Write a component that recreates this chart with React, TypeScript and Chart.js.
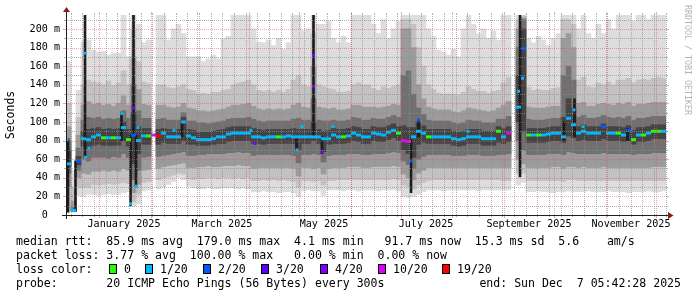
import React, { useEffect, useRef } from 'react';
import { Chart, registerables } from 'chart.js';

Chart.register(...registerables);

const MONO = '"DejaVu Sans Mono", "Liberation Mono", monospace';

// ---------------- time axis (days since 2024-12-12 05:42:28, 360-day window) ----------------
const WINDOW_DAYS = 360;
const COLUMN_DAYS = 3; // one smoke column = 3 days
const monthStartDays = [19.76, 50.76, 78.76, 109.76, 139.76, 170.76, 200.76, 231.76, 262.76, 292.76, 323.76, 353.76];
const monthLabels = ['January 2025', 'March 2025', 'May 2025', 'July 2025', 'September 2025', 'November 2025'];
const labelMonthStartDays = [19.76, 78.76, 139.76, 200.76, 262.76, 323.76];
const firstSundayDay = 2.76;

// ---------------- value axis (ms) ----------------
const RTT_AXIS_MAX = 215;

// ---------------- smoke: sorted ping rtts per column (ms) ----------------
const rttMax = [
  165, 48, 134, 186, 188, 177, 175, 176, 172, 174,
  174, 215, 170, 215, 205, 185, 188, null, 215, 215,
  188, 200, 205, 195, 170, 170, 170, 165, 168, 172,
  168, 190, 192, 215, 215, 215, 215, 200, 186, 185,
  188, 182, 190, 178, 185, 215, 215, 198, 200, 215,
  205, 205, 208, 190, 185, 192, 185, 215, 215, 215,
  215, 205, 195, 210, 190, 200, 208, 215, 215, 215,
  215, 215, 200, 192, 177, 175, 172, 178, 170, 200,
  215, 205, 195, 200, 190, 198, 188, 215, 215, null,
  215, 215, 190, 185, 192, 188, 182, 190, 195, 215,
  215, 215, 200, 215, 195, 190, 205, 195, 210, 200,
  215, 215, 215, 208, 215, 215, 210, 215, 215, 215,
];
const rttMin = [
  3, 3, 21, 20, 22, 22, 21, 22, 23, 22,
  22, 24, 25, 9, 12, 26, 27, null, 28, 30,
  33, 36, 40, 38, 31, 29, 28, 28, 29, 28,
  28, 29, 29, 29, 28, 29, 28, 25, 25, 26,
  25, 25, 24, 25, 25, 24, 20, 26, 27, 26,
  26, 21, 27, 27, 27, 26, 27, 27, 26, 27,
  27, 27, 26, 27, 27, 27, 26, 20, 19, 20,
  22, 25, 27, 27, 27, 26, 27, 27, 27, 27,
  27, 27, 26, 27, 27, 27, 27, 27, 27, null,
  32, 35, 25, 25, 26, 25, 25, 24, 25, 25,
  26, 25, 25, 25, 26, 25, 25, 25, 26, 25,
  25, 25, 24, 25, 25, 25, 26, 25, 25, 26,
];
const ping3 = [
  8, 4, 30, 30, 30, 33, 32, 33, 34, 33,
  34, 35, 34, 14, 22, 35, 36, null, 38, 40,
  41, 43, 45, 44, 39, 38, 40, 39, 40, 40,
  39, 40, 40, 39, 40, 39, 40, 37, 37, 38,
  37, 38, 37, 38, 37, 36, 30, 37, 37, 36,
  37, 32, 37, 37, 38, 38, 38, 38, 38, 38,
  38, 38, 38, 38, 38, 39, 38, 32, 30, 28,
  32, 35, 37, 38, 38, 38, 38, 38, 38, 38,
  38, 38, 38, 38, 38, 38, 38, 37, 37, null,
  45, 45, 37, 37, 37, 37, 37, 37, 37, 36,
  38, 38, 37, 37, 37, 37, 37, 37, 37, 37,
  37, 37, 37, 37, 37, 37, 37, 37, 37, 37,
];
const ping5 = [
  30, 4, 40, 45, 44, 47, 47, 48, 47, 48,
  47, 50, 48, 24, 33, 48, 49, null, 50, 52,
  53, 54, 55, 56, 51, 51, 52, 52, 53, 52,
  52, 53, 53, 53, 54, 53, 53, 50, 51, 51,
  51, 51, 51, 51, 51, 50, 42, 51, 51, 50,
  51, 44, 50, 51, 51, 51, 52, 52, 52, 51,
  51, 52, 52, 52, 52, 53, 52, 44, 40, 38,
  45, 48, 51, 51, 51, 51, 51, 51, 51, 51,
  51, 51, 51, 51, 51, 51, 51, 51, 51, null,
  60, 55, 51, 51, 51, 51, 51, 52, 52, 50,
  52, 52, 51, 52, 51, 51, 51, 52, 51, 51,
  51, 51, 51, 51, 51, 51, 51, 52, 52, 52,
];
const ping7 = [
  45, 5, 48, 60, 58, 62, 62, 62, 61, 63,
  62, 66, 62, 38, 48, 62, 63, null, 63, 64,
  65, 66, 67, 68, 64, 64, 65, 65, 66, 66,
  66, 66, 67, 67, 68, 67, 67, 64, 65, 65,
  65, 65, 65, 65, 65, 64, 56, 65, 65, 66,
  65, 57, 64, 65, 65, 65, 66, 66, 66, 65,
  65, 66, 66, 66, 67, 68, 67, 58, 54, 50,
  60, 63, 65, 65, 65, 65, 65, 64, 64, 64,
  65, 65, 65, 64, 64, 64, 65, 65, 66, null,
  80, 70, 65, 65, 65, 65, 66, 66, 66, 65,
  68, 67, 66, 66, 66, 66, 66, 67, 66, 66,
  66, 66, 66, 65, 66, 66, 66, 67, 67, 67,
];
const ping9 = [
  52, 5, 54, 74, 72, 75, 76, 75, 75, 75,
  75, 80, 74, 55, 66, 76, 76, null, 76, 78,
  77, 77, 77, 80, 76, 76, 75, 75, 75, 76,
  77, 77, 79, 80, 80, 80, 80, 77, 77, 76,
  77, 77, 77, 77, 77, 77, 70, 77, 77, 80,
  77, 68, 76, 77, 77, 77, 78, 80, 79, 77,
  77, 80, 79, 79, 81, 83, 80, 70, 66, 62,
  76, 78, 77, 77, 77, 77, 77, 75, 74, 75,
  77, 77, 77, 75, 75, 75, 78, 77, 79, null,
  100, 90, 78, 78, 78, 78, 79, 80, 80, 78,
  85, 83, 80, 81, 80, 80, 80, 82, 80, 80,
  80, 79, 80, 76, 79, 79, 80, 82, 82, 82,
];
const ping12 = [
  70, 6, 63, 90, 92, 93, 94, 92, 93, 92,
  93, 100, 92, 110, 95, 93, 93, null, 92, 93,
  92, 92, 92, 105, 92, 91, 89, 89, 89, 90,
  91, 92, 94, 95, 95, 95, 95, 93, 92, 91,
  92, 92, 92, 92, 92, 93, 92, 92, 92, 100,
  92, 90, 91, 93, 92, 92, 93, 95, 94, 92,
  92, 95, 94, 94, 96, 98, 95, 96, 94, 94,
  100, 96, 92, 92, 92, 92, 92, 90, 89, 90,
  92, 92, 92, 90, 90, 90, 95, 93, 95, null,
  150, 200, 93, 93, 93, 93, 94, 95, 95, 105,
  125, 115, 95, 97, 95, 95, 95, 98, 95, 95,
  95, 94, 96, 91, 94, 94, 95, 97, 97, 97,
];
const ping14 = [
  80, 8, 72, 102, 105, 104, 105, 103, 104, 103,
  104, 112, 104, 140, 112, 104, 104, null, 103, 104,
  102, 102, 102, 110, 101, 101, 99, 99, 98, 99,
  100, 101, 103, 104, 104, 104, 105, 103, 101, 100,
  101, 101, 101, 101, 101, 103, 104, 102, 102, 125,
  102, 101, 101, 102, 101, 101, 102, 105, 104, 102,
  102, 104, 103, 103, 105, 107, 105, 150, 155, 130,
  115, 108, 102, 101, 101, 101, 101, 99, 98, 99,
  102, 101, 101, 99, 99, 99, 103, 103, 106, null,
  180, 210, 103, 102, 102, 102, 103, 104, 104, 150,
  160, 145, 105, 107, 104, 104, 105, 107, 105, 104,
  105, 104, 106, 102, 104, 104, 105, 106, 106, 106,
];
const ping16 = [
  95, 15, 86, 118, 122, 119, 120, 118, 119, 117,
  120, 128, 118, 170, 135, 119, 118, null, 118, 118,
  116, 115, 116, 120, 115, 114, 112, 112, 111, 112,
  113, 114, 116, 118, 118, 119, 120, 117, 114, 113,
  114, 113, 114, 113, 114, 118, 120, 116, 115, 160,
  116, 115, 114, 115, 113, 113, 114, 118, 118, 116,
  116, 116, 115, 116, 117, 119, 118, 200, 200, 180,
  140, 125, 116, 114, 113, 113, 113, 111, 110, 112,
  115, 114, 113, 112, 111, 112, 115, 118, 122, null,
  200, 212, 116, 115, 115, 115, 116, 117, 117, 190,
  195, 180, 120, 121, 117, 117, 119, 120, 119, 118,
  120, 119, 121, 117, 119, 119, 120, 121, 121, 121,
];
const ping18 = [
  120, 30, 105, 140, 145, 143, 142, 140, 144, 139,
  142, 155, 140, 200, 165, 143, 141, null, 140, 140,
  137, 136, 138, 140, 135, 134, 130, 131, 130, 132,
  132, 134, 135, 140, 142, 143, 145, 140, 134, 133,
  134, 132, 134, 132, 135, 145, 150, 140, 138, 195,
  140, 138, 136, 135, 132, 132, 133, 140, 142, 140,
  140, 136, 134, 138, 136, 138, 140, 210, 210, 205,
  180, 160, 140, 135, 131, 130, 130, 130, 129, 132,
  138, 135, 133, 133, 131, 133, 134, 142, 148, null,
  210, 214, 137, 134, 135, 134, 134, 136, 137, 210,
  210, 205, 145, 148, 138, 137, 142, 140, 143, 140,
  145, 145, 147, 142, 145, 146, 145, 147, 148, 147,
];

// ---------------- median rtt per column (ms) and its loss class ----------------
const medianRtt = [
  55, 5, 58, 82, 81, 84, 86, 83, 83, 83,
  83, 94, 81, 86, 80, 85, 85, 86, 85, 88,
  84, 84, 84, 100, 85, 83, 81, 81, 81, 82,
  84, 84, 87, 88, 88, 88, 88, 84, 84, 83,
  84, 84, 84, 84, 85, 84, 84, 84, 84, 84,
  84, 82, 82, 86, 84, 84, 85, 88, 86, 84,
  84, 88, 87, 86, 89, 91, 88, 80, 79, 84,
  90, 88, 84, 84, 84, 84, 84, 82, 81, 82,
  84, 84, 84, 82, 82, 82, 90, 84, 88, null,
  116, 179, 86, 86, 86, 86, 87, 88, 88, 84,
  104, 97, 88, 90, 88, 88, 88, 95, 88, 88,
  88, 86, 91, 81, 86, 86, 88, 90, 90, 90,
];
const medianLoss = [
  1, 1, 2, 1, 1, 1, 1, 0, 1, 0,
  1, 1, 0, 2, 1, 1, 0, 5, 6, 1,
  1, 1, 1, 1, 1, 1, 1, 1, 1, 1,
  1, 1, 1, 1, 1, 1, 1, 1, 1, 1,
  1, 1, 0, 1, 1, 1, 1, 1, 1, 1,
  1, 1, 1, 1, 1, 0, 1, 1, 1, 1,
  1, 1, 1, 1, 1, 1, 0, 5, 5, 1,
  1, 1, 0, 1, 1, 1, 1, 1, 1, 1,
  1, 1, 1, 1, 1, 1, 0, 1, 5, 1,
  1, 2, 0, 1, 0, 1, 1, 1, 1, 1,
  1, 1, 1, 1, 1, 1, 1, 2, 1, 1,
  0, 1, 2, 0, 1, 0, 1, 0, 0, 1,
];

// short-lived median excursions (day, ms, loss class)
const markDays = [0.6, 11.4, 11.7, 13.8, 33.6, 38.7, 40.2, 42.3, 43.2, 64.8, 111.0, 113.4, 138.6, 141.6, 148.5, 148.5, 153.6, 160.2, 207.0, 211.5, 241.2, 271.5, 273.9, 304.8, 310.2];
const markRtt = [81, 174, 62, 72, 109, 12, 115, 31, 94, 91, 91, 77, 70, 95, 138, 172, 68, 95, 58, 102, 90, 133, 147, 113, 95];
const markLoss = [1, 1, 1, 1, 1, 1, 4, 1, 1, 1, 1, 4, 1, 1, 4, 4, 4, 1, 2, 2, 1, 1, 1, 1, 1];

// narrow dark smoke spikes (day, low ms, high ms)
const spikeDays = [1.2, 5.7, 11.4, 33.3, 38.7, 40.5, 42.0, 69.6, 138.3, 148.5, 153.6, 207.0, 211.5, 272.4, 298.8, 305.1, 336.9];
const spikeLow = [3, 4, 62, 80, 10, 86, 31, 84, 70, 84, 66, 24, 84, 41, 80, 84, 80];
const spikeHigh = [82, 58, 215, 110, 86, 215, 86, 101, 84, 215, 84, 81, 102, 215, 100, 125, 93];

// ---------------- legend ----------------
const lossLabels = ['0', '1/20', '2/20', '3/20', '4/20', '10/20', '19/20'];
const lossColors = ['#26ff00', '#00b8ff', '#0059ff', '#5e00ff', '#7e00ff', '#dd00ff', '#ff0000'];
const rttLine = 'median rtt:  85.9 ms avg  179.0 ms max  4.1 ms min   91.7 ms now  15.3 ms sd  5.6    am/s';
const lossLine = 'packet loss: 3.77 % avg  100.00 % max   0.00 % min  0.00 % now';
const lossColorTitle = 'loss color:';
const probeLine = 'probe:       20 ICMP Echo Pings (56 Bytes) every 300s';
const endLine = 'end: Sun Dec  7 05:42:28 2025';
const yTitle = 'Seconds';
const watermark = 'RRDTOOL / TOBI OETIKER';

// ---------------- chart ----------------
const colX = (i: number) => (i + 0.5) * COLUMN_DAYS;

function band(lo: (number | null)[], hi: (number | null)[], color: string, order: number) {
  return {
    type: 'bar' as const,
    data: lo.map((l, i) => ({ x: colX(i), y: l == null || hi[i] == null ? null : [l, hi[i]] })),
    backgroundColor: color,
    barThickness: 5,
    grouped: false,
    borderWidth: 0,
    order,
  };
}

const decorPlugin = {
  id: 'rrdDecor',
  afterDatasetsDraw(chart: any) {
    const { ctx, chartArea: a, scales } = chart;
    const xs = scales.x;
    const ys = scales.y;
    const MINOR = 'rgba(143,143,143,0.7)';
    const MAJOR = 'rgba(222,79,79,0.5)';
    const seg = (x1: number, y1: number, x2: number, y2: number) => {
      ctx.beginPath();
      ctx.moveTo(x1, y1);
      ctx.lineTo(x2, y2);
      ctx.stroke();
    };
    ctx.save();
    ctx.lineWidth = 1;

    // horizontal grid
    for (let v = 10; v < RTT_AXIS_MAX; v += 10) {
      const y = Math.round(ys.getPixelForValue(v)) + 0.5;
      const major = v % 20 === 0;
      ctx.strokeStyle = major ? MAJOR : MINOR;
      ctx.setLineDash([]);
      seg(a.left - (major ? 3 : 2), y, a.left, y);
      seg(a.right, y, a.right + (major ? 3 : 2), y);
      ctx.setLineDash([1, 1]);
      seg(a.left, y, a.right, y);
    }
    // vertical minor grid (weeks)
    ctx.strokeStyle = MINOR;
    for (let d = firstSundayDay; d < WINDOW_DAYS; d += 7) {
      const x = Math.round(xs.getPixelForValue(d)) + 0.5;
      ctx.setLineDash([]);
      seg(x, a.bottom, x, a.bottom + 2);
      seg(x, a.top - 2, x, a.top);
      ctx.setLineDash([1, 1]);
      seg(x, a.bottom, x, a.top);
    }
    // vertical major grid (months)
    ctx.strokeStyle = MAJOR;
    for (const d of monthStartDays) {
      const x = Math.round(xs.getPixelForValue(d)) + 0.5;
      ctx.setLineDash([]);
      seg(x, a.bottom, x, a.bottom + 3);
      seg(x, a.top - 3, x, a.top);
      ctx.setLineDash([1, 1]);
      seg(x, a.bottom, x, a.top);
    }
    ctx.setLineDash([]);

    // axes
    ctx.strokeStyle = '#1f1f1f';
    const ax = a.left + 0.5;
    const ay = a.bottom + 0.5;
    seg(a.left - 4, ay, a.right + 3, ay);
    seg(ax, a.bottom + 4, ax, a.top - 3);
    ctx.fillStyle = '#801f1f';
    ctx.beginPath();
    ctx.moveTo(ax - 3.5, a.top - 3);
    ctx.lineTo(ax + 3.5, a.top - 3);
    ctx.lineTo(ax, a.top - 8);
    ctx.closePath();
    ctx.fill();
    ctx.beginPath();
    ctx.moveTo(a.right + 2, ay - 3.5);
    ctx.lineTo(a.right + 2, ay + 3.5);
    ctx.lineTo(a.right + 7.5, ay);
    ctx.closePath();
    ctx.fill();

    // month labels centred on the month
    ctx.fillStyle = '#000';
    ctx.font = `10.1px ${MONO}`;
    ctx.textAlign = 'center';
    ctx.textBaseline = 'alphabetic';
    monthLabels.forEach((t, k) => {
      const x = xs.getPixelForValue(labelMonthStartDays[k] + 15);
      ctx.fillText(t, Math.round(x), 227);
    });

    // watermark
    ctx.save();
    ctx.translate(687, 5);
    ctx.rotate(Math.PI / 2);
    ctx.font = `8.3px ${MONO}`;
    ctx.fillStyle = '#b4b4b4';
    ctx.textAlign = 'left';
    ctx.textBaseline = 'middle';
    ctx.fillText(watermark, 0, 0);
    ctx.restore();

    // legend block
    ctx.font = `11.55px ${MONO}`;
    ctx.fillStyle = '#000';
    ctx.textAlign = 'left';
    ctx.textBaseline = 'alphabetic';
    ctx.fillText(rttLine, 16, 245);
    ctx.fillText(lossLine, 16, 259);
    ctx.fillText(lossColorTitle, 16, 273);
    ctx.fillText(probeLine, 16, 287);
    ctx.textAlign = 'right';
    ctx.fillText(endLine, 681, 287);
    ctx.textAlign = 'left';
    const boxX = [109, 145, 203, 261, 320, 378, 442];
    lossLabels.forEach((t, k) => {
      const bx = boxX[k];
      ctx.fillStyle = '#000';
      ctx.fillRect(bx, 264, 8, 10);
      ctx.fillStyle = lossColors[k];
      ctx.fillRect(bx + 1, 265, 6, 8);
      ctx.fillStyle = '#000';
      ctx.fillText(t, bx + 15, 273);
    });
    ctx.restore();
  },
};

export default function App() {
  const ref = useRef<HTMLCanvasElement>(null);
  useEffect(() => {
    const canvas = ref.current;
    if (!canvas) return;
    const chart = new Chart(canvas, {
      type: 'bar',
      data: {
        datasets: [
          band(rttMin, rttMax, '#dddddd', 9),
          band(ping3, ping18, '#c2c2c2', 8),
          band(ping5, ping16, '#9b9b9b', 7),
          band(ping7, ping14, '#707070', 6),
          band(ping9, ping12, '#444444', 5),
          {
            type: 'bar',
            data: spikeDays.map((d, i) => ({ x: d, y: [spikeLow[i], spikeHigh[i]] })),
            backgroundColor: '#1c1c1c',
            barThickness: 2,
            grouped: false,
            borderWidth: 0,
            order: 3,
          },
          {
            type: 'line',
            data: medianRtt.map((v, i) => ({ x: colX(i), y: v })),
            showLine: false,
            pointStyle: 'line',
            pointRadius: 2.5,
            pointBorderWidth: 3,
            pointBorderColor: medianLoss.map((l) => lossColors[l]),
            pointBackgroundColor: medianLoss.map((l) => lossColors[l]),
            order: 2,
          },
          {
            type: 'line',
            data: markDays.map((d, i) => ({ x: d, y: markRtt[i] })),
            showLine: false,
            pointStyle: 'line',
            pointRadius: 1.5,
            pointBorderWidth: 3,
            pointBorderColor: markLoss.map((l) => lossColors[l]),
            pointBackgroundColor: markLoss.map((l) => lossColors[l]),
            order: 1,
          },
        ] as any,
      },
      options: {
        responsive: false,
        animation: false,
        devicePixelRatio: 1,
        events: [],
        layout: { padding: { left: 0, right: 31, top: 15, bottom: 0 } },
        plugins: { legend: { display: false }, tooltip: { enabled: false } },
        scales: {
          x: {
            type: 'linear',
            min: 0,
            max: WINDOW_DAYS,
            offset: false,
            display: true,
            ticks: { display: false },
            grid: { display: false, drawTicks: false, offset: false },
            border: { display: false },
            afterFit: (s: any) => { s.height = 82; },
          },
          y: {
            type: 'linear',
            min: 0,
            max: RTT_AXIS_MAX,
            ticks: {
              stepSize: 10,
              includeBounds: false,
              autoSkip: false,
              padding: 6,
              color: '#000',
              font: { family: MONO, size: 10.1 },
              callback: (v: any) => (v === 0 ? '0  ' : v % 20 === 0 ? `${v} m` : ''),
            },
            grid: { display: false, drawTicks: false },
            border: { display: false },
            title: {
              display: true,
              text: yTitle,
              color: '#000',
              font: { family: MONO, size: 11.5 },
              padding: { top: 4, bottom: 0 },
            },
            afterFit: (s: any) => { s.width = 66; },
          },
        },
      } as any,
      plugins: [decorPlugin],
    });
    return () => chart.destroy();
  }, []);
  return (
    <div style={{ position: 'absolute', left: 0, top: 0, width: 697, height: 297, background: '#fff' }}>
      <canvas ref={ref} width={697} height={297} style={{ display: 'block', width: 697, height: 297 }} />
    </div>
  );
}
